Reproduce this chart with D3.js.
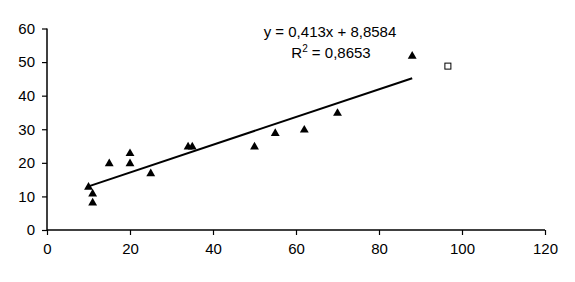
<!DOCTYPE html>
<html>
<head>
<meta charset="utf-8">
<script src="https://cdn.jsdelivr.net/npm/d3@7"></script>
<style>
  body { margin: 0; background: #fff; }
  text { font-family: "Liberation Sans", Arial, sans-serif; font-size: 15px; fill: #000; }
</style>
</head>
<body>
<svg id="chart" width="575" height="282"></svg>
<script>
// scatter values
const xVals = [10, 11, 11, 15, 20, 20, 25, 34, 35, 50, 55, 62, 70, 88]
const yVals = [13, 11, 8.3, 20, 23, 20, 17, 25, 25, 25, 29, 30, 35, 52]
const outlier = [{ x: 96.6, y: 48.8 }]
const slope = 0.413
const intercept = 8.8584
const eqLabel = 'y = 0,413x + 8,8584'
const r2Value = ' = 0,8653'
const xTicks = [0, 20, 40, 60, 80, 100, 120]
const yTicks = [0, 10, 20, 30, 40, 50, 60]

const svg = d3.select('#chart')

const x = d3.scaleLinear().domain([0, 120]).range([47, 545])
const y = d3.scaleLinear().domain([0, 60]).range([230, 28.5])

const xAxis = svg.append('g')
    .attr('transform', `translate(0,${y(0)})`)
    .call(d3.axisBottom(x).tickValues(xTicks).tickSize(5).tickPadding(8).tickFormat(d3.format('d')))
const yAxis = svg.append('g')
    .attr('transform', `translate(${x(0)},0)`)
    .call(d3.axisLeft(y).tickValues(yTicks).tickSize(5).tickPadding(7).tickFormat(d3.format('d')))

for (const ax of [xAxis, yAxis]) {
    ax.selectAll('.domain').attr('stroke', '#000').attr('stroke-width', 1.5)
    ax.selectAll('.tick line').attr('stroke', '#000').attr('stroke-width', 1.2)
    ax.selectAll('text').style('font-size', '15px').attr('fill', '#000')
}
xAxis.select('.domain').attr('d', `M${x(0)},0H${x(120)}`)
yAxis.select('.domain').attr('d', `M0,${y(60)}V${y(0)}`)

// trend line over the data range
const xMin = d3.min(xVals), xMax = d3.max(xVals)
svg.append('line')
    .attr('x1', x(xMin)).attr('y1', y(slope * xMin + intercept))
    .attr('x2', x(xMax)).attr('y2', y(slope * xMax + intercept))
    .attr('stroke', '#000')
    .attr('stroke-width', 2)

const points = xVals.map((d, i) => ({ x: d, y: yVals[i] }))
const tri = d3.symbol().type(d3.symbolTriangle).size(34)

svg.append('g')
    .selectAll('path')
    .data(points)
    .join('path')
    .attr('d', tri)
    .attr('transform', d => `translate(${x(d.x)},${y(d.y) + 0.8})`)
    .attr('fill', '#000')

svg.append('g')
    .selectAll('rect')
    .data(outlier)
    .join('rect')
    .attr('x', d => x(d.x) - 3)
    .attr('y', d => y(d.y) - 3)
    .attr('width', 6)
    .attr('height', 6)
    .attr('fill', '#fff')
    .attr('stroke', '#000')
    .attr('stroke-width', 1)

svg.append('text')
    .attr('x', 330).attr('y', 37)
    .attr('text-anchor', 'middle')
    .text(eqLabel)

const r2 = svg.append('text')
    .attr('x', 331).attr('y', 58)
    .attr('text-anchor', 'middle')
r2.append('tspan').text('R')
r2.append('tspan').text('2').attr('dy', -6).style('font-size', '10px')
r2.append('tspan').text(r2Value).attr('dy', 6)
</script>
</body>
</html>
